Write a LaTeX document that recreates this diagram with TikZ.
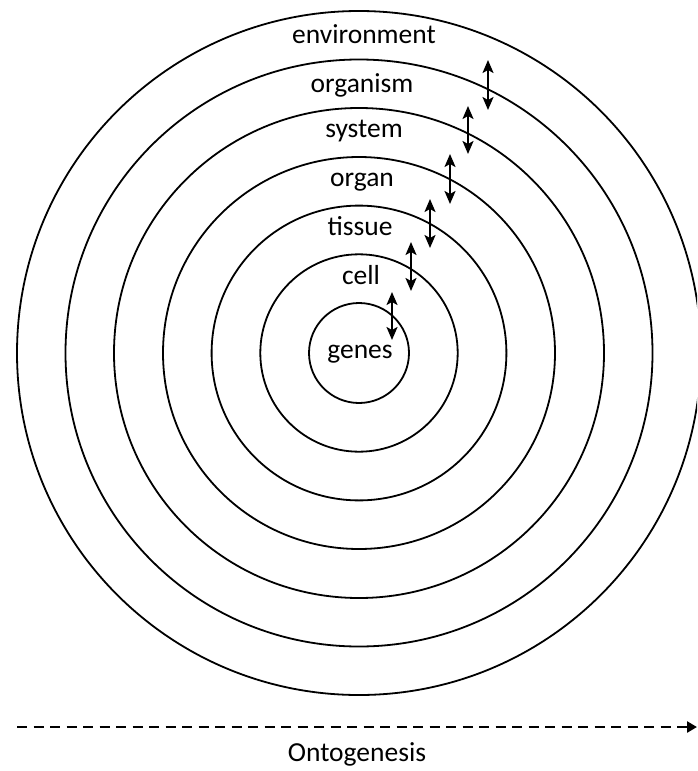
\documentclass[tikz,border=0pt]{standalone}
\usepackage{fontspec}
\setmainfont{Carlito}
\usetikzlibrary{arrows.meta}
\begin{document}
\begin{tikzpicture}[x=1pt,y=-1pt,
  ring/.style={line width=1.8pt, black},
  lbl/.style={font=\fontsize{27.5}{31}\selectfont, anchor=base, inner sep=0pt},
  dbl/.style={line width=2pt, {Stealth[length=13pt,width=11pt,inset=3pt]}-{Stealth[length=13pt,width=11pt,inset=3pt]}},
  onto/.style={line width=2.8pt, dash pattern=on 10pt off 6.5pt, -{Triangle[length=10pt,width=11pt]}}]
\useasboundingbox (0,0) rectangle (697,771);
\clip (0,0) rectangle (697,771);
\fill[white] (0,0) rectangle (697,771);
\coordinate (c) at (359,353);
\foreach \r in {50,98.7,147.4,196,245,293.5,342}
  \draw[ring] (c) circle[radius=\r];
\node[lbl] (environment) at (364,43) {environment};
\node[lbl] (organism) at (362,92) {organism};
\node[lbl] (system) at (364,137) {system};
\node[lbl] (organ) at (362,186) {organ};
\node[lbl] (tissue) at (360,235) {tissue};
\node[lbl] (cell) at (361,284) {cell};
\node[lbl] (genes) at (360,358) {genes};
\node[lbl] (onto) at (357,761) {Ontogenesis};
\coordinate (a1t) at (488,60);  \coordinate (a1b) at (488,110);
\coordinate (a2t) at (468,106); \coordinate (a2b) at (468,154);
\coordinate (a3t) at (450,154); \coordinate (a3b) at (450,204);
\coordinate (a4t) at (430,199); \coordinate (a4b) at (430,248);
\coordinate (a5t) at (411,242); \coordinate (a5b) at (411,291);
\coordinate (a6t) at (392,292); \coordinate (a6b) at (392,340);
\foreach \i in {1,...,6}
  \draw[dbl] (a\i t) -- (a\i b);
\coordinate (ostart) at (17,727);
\coordinate (oend) at (697,727);
\draw[onto] (ostart) -- (oend);
\end{tikzpicture}
\end{document}
